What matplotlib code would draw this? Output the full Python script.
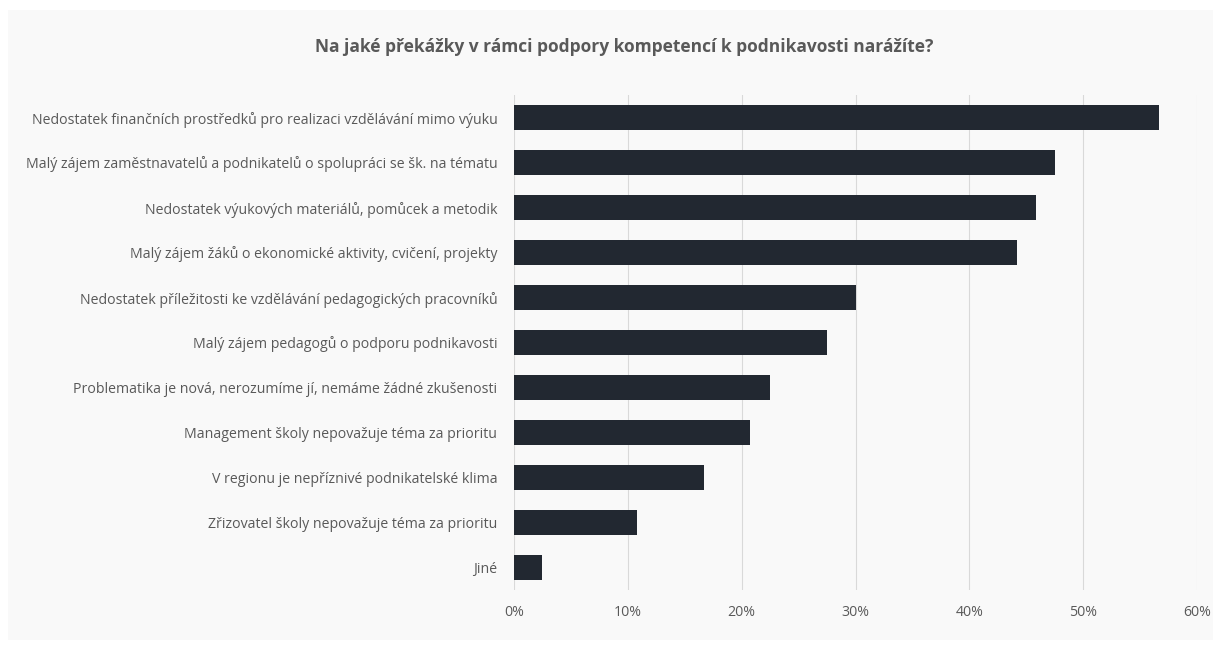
import matplotlib.pyplot as plt
from matplotlib.ticker import PercentFormatter
from matplotlib.patches import Rectangle

plt.rcParams['font.family'] = ['Open Sans', 'DejaVu Sans']

# Data
kategorie = [
    "Nedostatek finančních prostředků pro realizaci vzdělávání mimo výuku",
    "Malý zájem zaměstnavatelů a podnikatelů o spolupráci se šk. na tématu",
    "Nedostatek výukových materiálů, pomůcek a metodik",
    "Malý zájem žáků o ekonomické aktivity, cvičení, projekty",
    "Nedostatek příležitosti ke vzdělávání pedagogických pracovníků",
    "Malý zájem pedagogů o podporu podnikavosti",
    "Problematika je nová, nerozumíme jí, nemáme žádné zkušenosti",
    "Management školy nepovažuje téma za prioritu",
    "V regionu je nepříznivé podnikatelské klima",
    "Zřizovatel školy nepovažuje téma za prioritu",
    "Jiné",
]
hodnoty = [56.7, 47.5, 45.9, 44.2, 30.0, 27.5, 22.5, 20.7, 16.7, 10.8, 2.5]
x_ticks = [0, 10, 20, 30, 40, 50, 60]

seda = "#595959"
bg = "#f9f9f9"

fig = plt.figure(figsize=(12.21, 6.5), dpi=100, facecolor="white")
# svetly panel za grafem
fig.patches.append(Rectangle((8 / 1221, 10 / 650), 1205 / 1221, 630 / 650,
                             transform=fig.transFigure, facecolor=bg,
                             edgecolor="none", zorder=-5))

ax = fig.add_axes([514 / 1221, 1 - 590 / 650, 683 / 1221, 495 / 650])
ax.set_facecolor(bg)

pozice = list(range(len(kategorie)))
ax.barh(pozice, hodnoty, height=0.56, color="#222831", zorder=3)

ax.set_ylim(len(kategorie) - 0.5, -0.5)
ax.set_xlim(0, 60)
ax.set_xticks(x_ticks)
ax.xaxis.set_major_formatter(PercentFormatter(decimals=0))
ax.set_yticks(pozice)
ax.set_yticklabels(kategorie)

ax.grid(axis="x", color="#d9d9d9", linewidth=0.8, zorder=0)
for s in ax.spines.values():
    s.set_visible(False)
ax.tick_params(axis="both", length=0, colors=seda)
ax.tick_params(axis="y", pad=12, labelsize=10.2)
ax.tick_params(axis="x", pad=11, labelsize=10.2)

fig.text(0.511, 1 - 47 / 650, "Na jaké překážky v rámci podpory kompetencí k podnikavosti narážíte?",
         ha="center", va="center", fontsize=12.5, fontweight="bold", color=seda)

fig.savefig("out.png", dpi=100, facecolor="white")
